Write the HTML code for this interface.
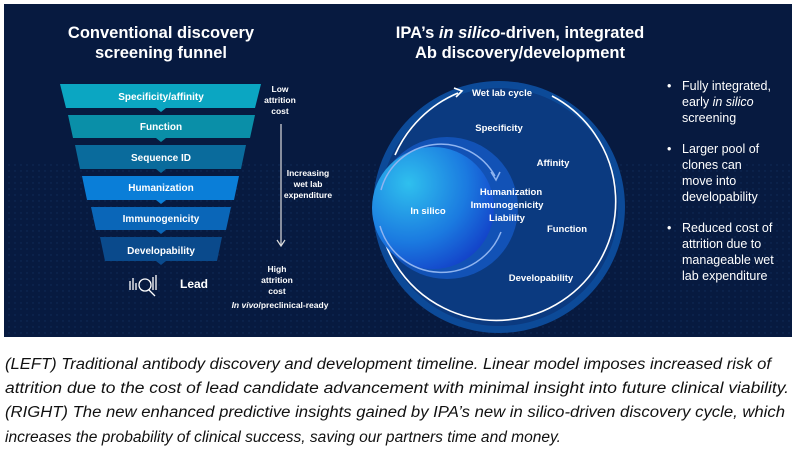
<!DOCTYPE html>
<html><head><meta charset="utf-8"><style>
body{margin:0;background:#fff;width:796px;height:457px;overflow:hidden;font-family:"Liberation Sans",sans-serif}
</style></head><body>
<svg width="796" height="457" style="position:absolute;left:0;top:0" font-family="Liberation Sans, sans-serif">
<defs>
<radialGradient id="sph" cx="0.3" cy="0.3" r="0.8"><stop offset="0" stop-color="#2fc0ee"/><stop offset="0.6" stop-color="#1b7ae0"/><stop offset="1" stop-color="#1340c8"/></radialGradient>
<pattern id="dots" width="6" height="6" patternUnits="userSpaceOnUse"><circle cx="3" cy="3" r="0.7" fill="#2a5a9a" opacity="0.6"/></pattern>
</defs>
<rect x="4" y="4" width="788" height="333" fill="#071a40"/>
<rect x="4" y="160" width="788" height="177" fill="url(#dots)" opacity="0.5"/>
<g fill="#fff" font-weight="bold" text-anchor="middle">
<text x="161" y="38" font-size="16.5">Conventional discovery</text>
<text x="161" y="58" font-size="16.5">screening funnel</text>
<text x="520" y="38" font-size="16.5">IPA’s <tspan font-style="italic">in silico</tspan>-driven, integrated</text>
<text x="520" y="58" font-size="16.5">Ab discovery/development</text>
</g>
<g>
<polygon points="60,84 261,84 255,108 166,108 161,112 156,108 66,108" fill="#0ba6c2"/>
<polygon points="68,115 255,115 250,138 166,138 161,142 156,138 73,138" fill="#0a8fa8"/>
<polygon points="75,145 246,145 241,169 166,169 161,173 156,169 80,169" fill="#0a6b9c"/>
<polygon points="82,176 239,176 234,200 166,200 161,204 156,200 87,200" fill="#0a7ed8"/>
<polygon points="91,207 231,207 226,230 166,230 161,234 156,230 96,230" fill="#0a66b8"/>
<polygon points="100,237 222,237 217,261 166,261 161,265 156,261 105,261" fill="#0a4a8c"/>
</g>
<g fill="#fff" font-weight="bold" font-size="10" text-anchor="middle">
<text x="161" y="100">Specificity/affinity</text>
<text x="161" y="130">Function</text>
<text x="161" y="161">Sequence ID</text>
<text x="161" y="191">Humanization</text>
<text x="161" y="222">Immunogenicity</text>
<text x="161" y="254">Developability</text>
<text x="180" y="288" font-size="12" text-anchor="start">Lead</text>
<text x="280" y="92" font-size="8.5">Low</text>
<text x="280" y="103" font-size="8.5">attrition</text>
<text x="280" y="114" font-size="8.5">cost</text>
<text x="308" y="176" font-size="8.5">Increasing</text>
<text x="308" y="187" font-size="8.5">wet lab</text>
<text x="308" y="198" font-size="8.5">expenditure</text>
<text x="277" y="272" font-size="8.5">High</text>
<text x="277" y="283" font-size="8.5">attrition</text>
<text x="277" y="294" font-size="8.5">cost</text>
<text x="280" y="308" font-size="8.5"><tspan font-style="italic">In vivo</tspan>/preclinical-ready</text>
</g>
<line x1="281" y1="124" x2="281" y2="245" stroke="#ddd" stroke-width="1.2"/>
<polyline points="277,240 281,246 285,240" fill="none" stroke="#ddd" stroke-width="1.2"/>
<g stroke="#fff" stroke-width="1.3" fill="none">
<line x1="130" y1="281" x2="130" y2="290"/><line x1="133" y1="278" x2="133" y2="290"/><line x1="136" y1="283" x2="136" y2="290"/>
<circle cx="145" cy="285" r="6"/><line x1="149" y1="290" x2="155" y2="296"/>
<line x1="153" y1="277" x2="153" y2="290"/><line x1="156" y1="275" x2="156" y2="290"/>
</g>
<circle cx="499" cy="207" r="126" fill="#0c4a98"/>
<circle cx="499" cy="207" r="119" fill="#0b3a80"/>
<path d="M395,155 A119,119 0 0 1 458,93" fill="none" stroke="#fff" stroke-width="1.6"/>
<polyline points="454,88 462,91 456,97" fill="none" stroke="#fff" stroke-width="1.6"/>
<path d="M552,96 A119,119 0 1 1 378,210" fill="none" stroke="#fff" stroke-width="1.6"/>
<circle cx="447" cy="208" r="71" fill="#1457c0" opacity="0.85"/>
<circle cx="433" cy="208" r="61" fill="url(#sph)"/>
<path d="M381,190 A62,62 0 0 1 495,176" fill="none" stroke="#8fb4f0" stroke-width="1.5"/>
<polyline points="491,172 496,180 500,172" fill="none" stroke="#8fb4f0" stroke-width="1.5"/>
<path d="M501,232 A64,64 0 0 1 380,226" fill="none" stroke="#8fb4f0" stroke-width="1.5"/>
<g fill="#fff" font-weight="bold" font-size="9.5" text-anchor="middle">
<text x="502" y="96">Wet lab cycle</text>
<text x="499" y="131">Specificity</text>
<text x="553" y="166">Affinity</text>
<text x="511" y="195">Humanization</text>
<text x="507" y="208">Immunogenicity</text>
<text x="507" y="221">Liability</text>
<text x="428" y="214">In silico</text>
<text x="567" y="232">Function</text>
<text x="541" y="281">Developability</text>
</g>
<g fill="#fff" font-size="12.5">
<text x="667" y="90">•</text><text x="682" y="90">Fully integrated,</text>
<text x="682" y="106">early <tspan font-style="italic">in silico</tspan></text>
<text x="682" y="122">screening</text>
<text x="667" y="153">•</text><text x="682" y="153">Larger pool of</text>
<text x="682" y="169">clones can</text>
<text x="682" y="185">move into</text>
<text x="682" y="201">developability</text>
<text x="667" y="232">•</text><text x="682" y="232">Reduced cost of</text>
<text x="682" y="248">attrition due to</text>
<text x="682" y="264">manageable wet</text>
<text x="682" y="280">lab expenditure</text>
</g>
<g fill="#111" font-size="15.5" font-style="italic">
<text x="5" y="369" textLength="766" lengthAdjust="spacingAndGlyphs">(LEFT) Traditional antibody discovery and development timeline. Linear model imposes increased risk of</text>
<text x="5" y="393" textLength="784" lengthAdjust="spacingAndGlyphs">attrition due to the cost of lead candidate advancement with minimal insight into future clinical viability.</text>
<text x="5" y="417" textLength="780" lengthAdjust="spacingAndGlyphs">(RIGHT) The new enhanced predictive insights gained by IPA’s new in silico-driven discovery cycle, which</text>
<text x="5" y="442" textLength="556" lengthAdjust="spacingAndGlyphs">increases the probability of clinical success, saving our partners time and money.</text>
</g>
</svg>
</body></html>
